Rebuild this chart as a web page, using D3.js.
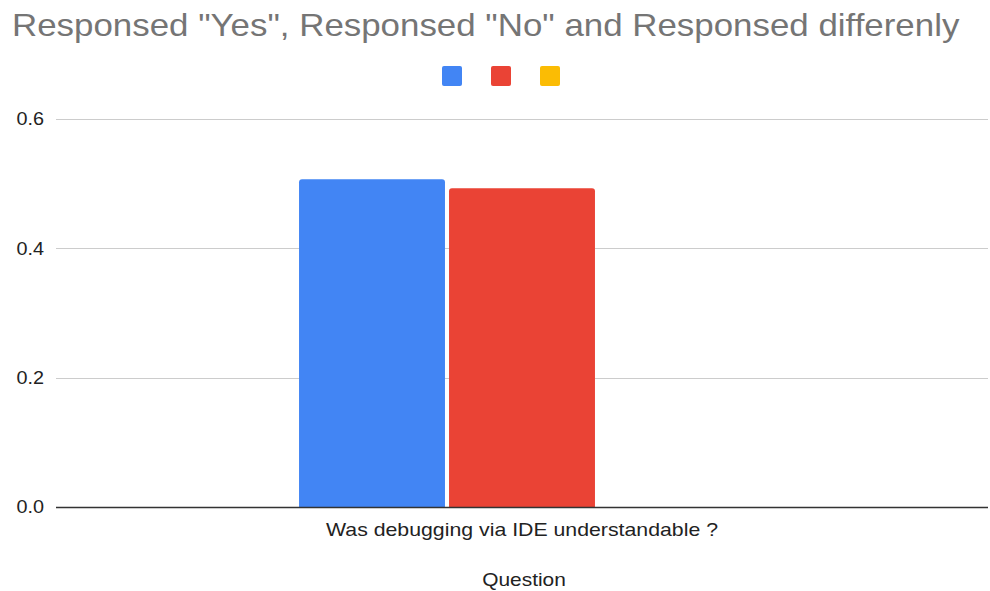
<!DOCTYPE html>
<html><head><meta charset="utf-8">
<script src="https://cdn.jsdelivr.net/npm/d3@7"></script>
<style>body{margin:0;background:#fff;font-family:Arial,"Liberation Sans",sans-serif;}</style>
</head><body>
<svg id="c" width="990" height="591"></svg>
<script>
const categories = ["Was debugging via IDE understandable ?"];
const seriesNames = ["Responsed \"Yes\"", "Responsed \"No\"", "Responsed differenly"];
const seriesColors = ["#4285f4", "#ea4335", "#fbbc04"];
const yesValues = [0.507];
const noValues = [0.493];
const otherValues = [0];
const yTicks = [0, 0.2, 0.4, 0.6];
const titleText = "Responsed \"Yes\", Responsed \"No\" and Responsed differenly";
const xAxisTitle = "Question";

const FONT = "Arial, 'Liberation Sans', sans-serif";
const svg = d3.select("#c");
const W = 990, H = 591;
const m = {left: 56, right: 2, top: 119, bottom: 84};
const y = d3.scaleLinear().domain([0, 0.6]).range([H - m.bottom, m.top]);
const x0 = d3.scaleBand().domain(categories).range([m.left, W - m.right]).paddingInner(0).paddingOuter(0.545);
const series = [yesValues, noValues, otherValues];
const x1 = d3.scaleBand().domain(d3.range(series.length)).range([0, x0.bandwidth()]).paddingInner(0.027);

function stretch(sel, f) {
  sel.each(function() {
    const w = this.getComputedTextLength();
    d3.select(this).attr("textLength", w * f).attr("lengthAdjust", "spacingAndGlyphs");
  });
}

// title
svg.append("text").attr("x", 12).attr("y", 36).attr("font-size", 32).attr("fill", "#757575")
  .attr("font-family", FONT).text(titleText).call(stretch, 1.09);

// legend
const leg = svg.append("g");
seriesColors.forEach((c, i) => {
  leg.append("rect").attr("x", 442 + i * 49).attr("y", 66).attr("width", 20).attr("height", 20)
    .attr("rx", 2).attr("fill", c).append("title").text(seriesNames[i]);
});

// grid
const g = svg.append("g");
g.selectAll("line.grid").data(yTicks.filter(d => d > 0)).join("line")
  .attr("x1", m.left).attr("x2", W - m.right)
  .attr("y1", d => Math.round(y(d)) + 0.5).attr("y2", d => Math.round(y(d)) + 0.5)
  .attr("stroke", "#cccccc").attr("stroke-width", 1);

// y labels
const yAxis = d3.axisLeft(y).tickValues(yTicks).tickFormat(d3.format(".1f")).tickSize(0).tickPadding(12);
const ya = svg.append("g").attr("transform", `translate(${m.left},0)`).call(yAxis);
ya.select(".domain").remove();
ya.selectAll("text").attr("font-size", 18).attr("fill", "#222").attr("font-family", FONT).call(stretch, 1.1);

// bars
const rr = 3;
function barPath(x, yTop, w, yBot) {
  const h = yBot - yTop;
  if (h <= 0) return "";
  const r = Math.min(rr, h, w / 2);
  return `M${x},${yBot}V${yTop + r}Q${x},${yTop} ${x + r},${yTop}H${x + w - r}Q${x + w},${yTop} ${x + w},${yTop + r}V${yBot}Z`;
}
categories.forEach((cat, ci) => {
  series.forEach((vals, si) => {
    const xx = x0(cat) + x1(si);
    svg.append("path").attr("d", barPath(xx, y(vals[ci]), x1.bandwidth(), y(0)))
      .attr("fill", seriesColors[si]);
  });
});

// x axis baseline
svg.append("line").attr("x1", m.left).attr("x2", W - m.right)
  .attr("y1", y(0) + 0.5).attr("y2", y(0) + 0.5).attr("stroke", "#333").attr("stroke-width", 1.5);

// x labels
const xAxis = d3.axisBottom(x0).tickSize(0).tickPadding(0);
const xa = svg.append("g").attr("transform", `translate(0,${y(0)})`).call(xAxis);
xa.select(".domain").remove();
xa.selectAll("text").attr("y", 29).attr("dy", 0).attr("font-size", 19).attr("fill", "#222")
  .attr("font-family", FONT).call(stretch, 1.12);

svg.append("text").attr("x", (m.left + W - m.right) / 2 + 2).attr("y", 586).attr("text-anchor", "middle")
  .attr("font-size", 19).attr("fill", "#222").attr("font-family", FONT).text(xAxisTitle).call(stretch, 1.1);
</script>
</body></html>
